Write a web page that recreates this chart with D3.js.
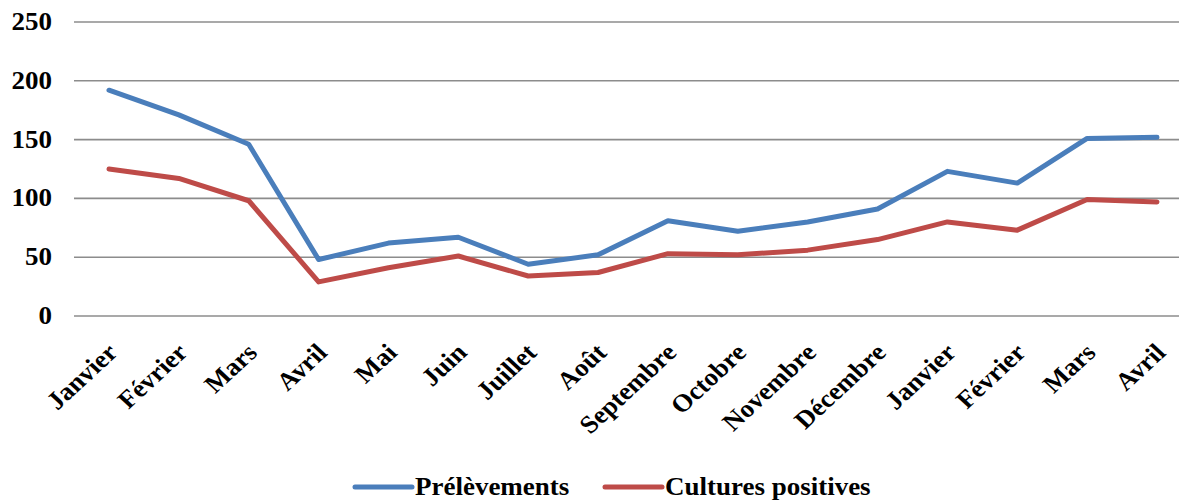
<!DOCTYPE html>
<html>
<head>
<meta charset="utf-8">
<script src="https://cdn.jsdelivr.net/npm/d3@7"></script>
<style>
  html, body { margin: 0; padding: 0; background: #fff; }
  svg { display: block; }
  text { font-family: "Liberation Serif", "Times New Roman", serif; font-weight: bold; fill: #000; }
</style>
</head>
<body>
<svg id="chart" width="1179" height="501"></svg>
<script>
// Mois de la période d'étude
const months = ["Janvier", "Février", "Mars", "Avril", "Mai", "Juin", "Juillet", "Août",
  "Septembre", "Octobre", "Novembre", "Décembre", "Janvier", "Février", "Mars", "Avril"];

// Nombre de prélèvements par mois
const prelevements = [192, 171, 146, 48, 62, 67, 44, 52, 81, 72, 80, 91, 123, 113, 151, 152];

// Nombre de cultures positives par mois
const culturesPositives = [125, 117, 98, 29, 41, 51, 34, 37, 53, 52, 56, 65, 80, 73, 99, 97];

const yTicks = [0, 50, 100, 150, 200, 250];

const seriesNames = ["Prélèvements", "Cultures positives"];
const seriesColors = ["#4A7EBB", "#BE4B48"];

const svg = d3.select("#chart");
const W = 1179;
const fontSize = 25;
const stretch = 1.08;

const x = d3.scalePoint()
  .domain(d3.range(months.length))
  .range([109, 1157]);

const y = d3.scaleLinear()
  .domain([0, 250])
  .range([316, 22]);

// Lignes de quadrillage horizontales
svg.append("g")
  .selectAll("line")
  .data(yTicks)
  .join("line")
  .attr("x1", 74)
  .attr("x2", W)
  .attr("y1", d => y(d))
  .attr("y2", d => y(d))
  .attr("stroke", "#8c8c8c")
  .attr("stroke-width", 1.6);

// Étiquettes de l'axe vertical
svg.append("g")
  .selectAll("text")
  .data(yTicks)
  .join("text")
  .attr("transform", d => `translate(52,${y(d) + 8}) scale(${stretch},1)`)
  .attr("text-anchor", "end")
  .style("font-size", fontSize + "px")
  .text(d => d);

// Étiquettes des mois, inclinées
svg.append("g")
  .selectAll("text")
  .data(months)
  .join("text")
  .attr("transform", (d, i) => `translate(${x(i) + 10},354) scale(${stretch},1) rotate(-45)`)
  .attr("text-anchor", "end")
  .style("font-size", fontSize + "px")
  .text(d => d);

// Courbes
const line = d3.line()
  .x((d, i) => x(i))
  .y(d => y(d));

[prelevements, culturesPositives].forEach((values, k) => {
  svg.append("path")
    .datum(values)
    .attr("d", line)
    .attr("fill", "none")
    .attr("stroke", seriesColors[k])
    .attr("stroke-width", 5)
    .attr("stroke-linejoin", "round")
    .attr("stroke-linecap", "round");
});

// Légende
const legendX = [355, 605];
const legend = svg.append("g")
  .selectAll("g")
  .data(seriesNames)
  .join("g")
  .attr("transform", (d, i) => `translate(${legendX[i]},487)`);

legend.append("line")
  .attr("x1", 0)
  .attr("x2", 57)
  .attr("y1", 0)
  .attr("y2", 0)
  .attr("stroke", (d, i) => seriesColors[i])
  .attr("stroke-width", 5)
  .attr("stroke-linecap", "round");

legend.append("text")
  .attr("transform", `translate(60,8) scale(${stretch},1)`)
  .style("font-size", fontSize + "px")
  .text(d => d);
</script>
</body>
</html>
